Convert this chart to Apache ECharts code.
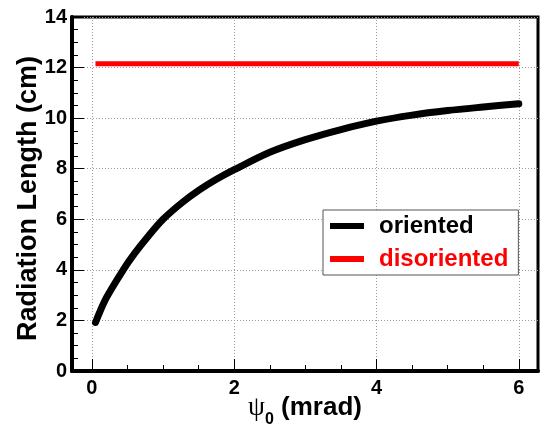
<!DOCTYPE html>
<html>
<head>
<meta charset="utf-8">
<script src="https://cdn.jsdelivr.net/npm/echarts@6/dist/echarts.min.js"></script>
<style>html,body{margin:0;padding:0;background:#fff}#c{width:544px;height:428px}</style>
</head>
<body>
<div id="c"></div>
<script>
// Data
const psi0 = [0.05, 0.2, 0.44, 0.6, 0.8, 1.0, 1.25, 1.5, 1.75, 2.0, 2.5, 3.0, 3.5, 4.0, 4.5, 5.0, 5.5, 6.0];
const oriented = [1.92, 2.88, 4.0, 4.65, 5.36, 6.0, 6.62, 7.14, 7.58, 7.96, 8.65, 9.15, 9.55, 9.88, 10.12, 10.3, 10.44, 10.57];
const disorientedX = [0.05, 6.0];
const disoriented = [12.15, 12.15];
const xMajorTicks = [0, 2, 4, 6];
const xMinorTicks = [0.5, 1, 1.5, 2.5, 3, 3.5, 4.5, 5, 5.5];
const xRange = [-0.28, 6.27];
const yRange = [0, 14];
const yStep = 2;
const seriesNames = ['oriented', 'disoriented'];

const FONT = '"Liberation Sans", Arial, Helvetica, sans-serif';
const chart = echarts.init(document.getElementById('c'), null, {renderer: 'canvas'});
const gridLine = {show: true, lineStyle: {color: '#999', type: [1, 2], width: 1}};

chart.setOption({
  animation: false,
  backgroundColor: '#fff',
  grid: {left: 72, right: 6, top: 17, bottom: 57, containLabel: false, outerBoundsMode: 'none',
         show: true, borderColor: '#000', borderWidth: 3, backgroundColor: 'transparent'},
  legend: {
    orient: 'vertical', left: 323, top: 210,
    data: [
      {name: seriesNames[0], textStyle: {color: '#000'}},
      {name: seriesNames[1], textStyle: {color: '#ff0000'}}
    ],
    icon: 'rect', itemWidth: 34, itemHeight: 6, itemGap: 9,
    padding: [4, 10, 4, 7],
    backgroundColor: '#fff', borderColor: '#555', borderWidth: 1,
    textStyle: {fontFamily: FONT, fontWeight: 'bold', fontSize: 24, padding: [0, 0, 0, 10]}
  },
  xAxis: [{
    type: 'value', min: xRange[0], max: xRange[1],
    axisLine: {show: true, onZero: false, lineStyle: {color: '#000', width: 4}},
    axisTick: {show: true, inside: true, length: 12, customValues: xMajorTicks, lineStyle: {color: '#000', width: 1}},
    axisLabel: {show: true, customValues: xMajorTicks, margin: 7, color: '#000', fontFamily: FONT, fontWeight: 'bold', fontSize: 20},
    splitLine: gridLine,
    name: '{p|ψ}{s|0}{t| (mrad)}',
    nameLocation: 'middle', nameGap: 17, nameMoveOverlap: false,
    nameTextStyle: {
      color: '#000',
      rich: {
        p: {fontFamily: '"Liberation Serif", serif', fontSize: 27, color: '#000', lineHeight: 40, verticalAlign: 'middle'},
        s: {fontFamily: FONT, fontWeight: 'bold', fontSize: 16, color: '#000', lineHeight: 16, verticalAlign: 'bottom'},
        t: {fontFamily: FONT, fontWeight: 'bold', fontSize: 26, color: '#000', lineHeight: 40, verticalAlign: 'middle'}
      }
    }
  }, {
    type: 'value', min: xRange[0], max: xRange[1], position: 'bottom',
    axisLine: {show: false},
    axisTick: {show: true, inside: true, length: 6, customValues: xMinorTicks, lineStyle: {color: '#000', width: 1}},
    axisLabel: {show: false},
    splitLine: {show: false}
  }],
  yAxis: {
    type: 'value', min: yRange[0], max: yRange[1], interval: yStep,
    axisLine: {show: true, onZero: false, lineStyle: {color: '#000', width: 4}},
    axisTick: {show: true, inside: true, length: 12, lineStyle: {color: '#000', width: 1}},
    minorTick: {show: true, splitNumber: 4, length: 6, lineStyle: {color: '#000', width: 1}},
    axisLabel: {margin: 5, color: '#000', fontFamily: FONT, fontWeight: 'bold', fontSize: 20},
    splitLine: gridLine,
    name: 'Radiation Length (cm)',
    nameLocation: 'middle', nameGap: 30, nameRotate: 90, nameMoveOverlap: false,
    nameTextStyle: {color: '#000', fontFamily: FONT, fontWeight: 'bold', fontSize: 27, padding: [0, 9, 0, 0]}
  },
  series: [{
    name: seriesNames[0], type: 'line', xAxisIndex: 0,
    data: psi0.map((x, i) => [x, oriented[i]]),
    smooth: 0.3, showSymbol: false, symbol: 'none',
    itemStyle: {color: '#000'},
    lineStyle: {color: '#000', width: 7, cap: 'round'}
  }, {
    name: seriesNames[1], type: 'line', xAxisIndex: 0,
    data: disorientedX.map((x, i) => [x, disoriented[i]]),
    showSymbol: false, symbol: 'none',
    itemStyle: {color: '#ff0000'},
    lineStyle: {color: '#ff0000', width: 5}
  }]
});
</script>
</body>
</html>
